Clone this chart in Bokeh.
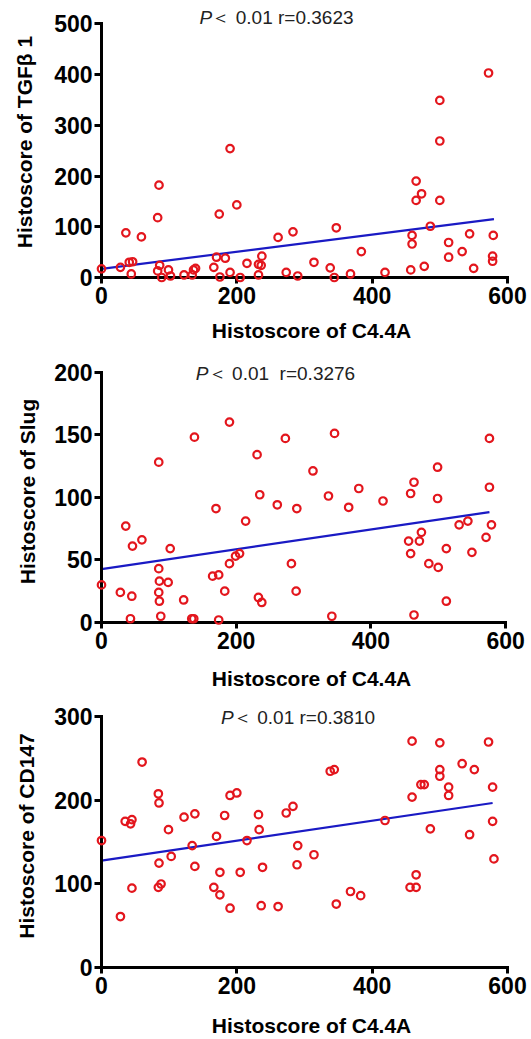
from bokeh.plotting import figure
from bokeh.layouts import column
from bokeh.models import Range1d, FixedTicker, Label
from bokeh.embed import file_html
from bokeh.resources import INLINE

FONT = "Liberation Sans"

x_title = "Histoscore of C4.4A"
x_ticks = [0, 200, 400, 600]

# ---------------- Panel 1: TGFβ1 ----------------
tgf_title = "Histoscore of TGFβ 1"
tgf_ticks = [0, 100, 200, 300, 400, 500]
tgf_note = "＜ 0.01 r=0.3623"
tgf_x = [0, 28, 41, 46, 44, 36, 59, 85, 83, 86, 83, 89, 99, 102, 122, 134, 136, 139,
         166, 174, 170, 183, 175, 190, 200, 205, 215, 232, 236, 237, 232, 261, 283,
         273, 290, 314, 338, 344, 347, 368, 384, 419, 457, 459, 459, 465, 473, 465,
         477, 486, 500, 513, 513, 533, 544, 550, 579, 578, 578, 190, 500, 500, 572]
tgf_y = [17, 20, 30, 31, 7, 88, 80, 182, 118, 24, 13, 0, 15, 3, 5, 5, 15, 18,
         20, 125, 40, 38, 1, 10, 143, 0, 28, 26, 24, 42, 5, 79, 90,
         10, 3, 30, 19, 0, 98, 7, 51, 10, 15, 83, 66, 190, 165, 152,
         22, 101, 152, 69, 40, 51, 86, 18, 83, 42, 32, 254, 349, 269, 403]
tgf_fit_x = [0, 580]
tgf_fit_y = [17, 115]

# ---------------- Panel 2: Slug ----------------
slug_title = "Histoscore of Slug"
slug_ticks = [0, 50, 100, 150, 200]
slug_note = "＜ 0.01\u00a0 r=0.3276"
slug_x = [0, 28, 45, 43, 36, 46, 60, 85, 85, 86, 85, 86, 88, 99, 102, 122, 134, 137,
          138, 170, 165, 174, 174, 183, 190, 190, 199, 205, 214, 231, 235, 233, 238,
          261, 273, 290, 282, 289, 314, 346, 337, 367, 382, 342, 418, 464, 459, 499,
          499, 456, 459, 475, 472, 486, 500, 512, 512, 464, 531, 544, 550, 571, 576,
          576, 579]
slug_y = [30, 24, 21, 3, 77, 61, 66, 128, 43, 33, 24, 17, 5, 32, 59, 18, 3, 3,
          148, 91, 37, 38, 2, 25, 160, 47, 53, 55, 81, 134, 102, 20, 16,
          94, 147, 91, 47, 25, 121, 151, 101, 92, 107, 5, 97, 112, 103, 124,
          99, 65, 55, 72, 65, 47, 44, 59, 17, 6, 78, 81, 56, 68, 147,
          108, 78]
slug_fit_x = [0, 576]
slug_fit_y = [42.6, 88.2]

# ---------------- Panel 3: CD147 ----------------
cd_title = "Histoscore of CD147"
cd_ticks = [0, 100, 200, 300]
cd_note = "＜ 0.01 r=0.3810"
cd_x = [0, 28, 35, 43, 45, 45, 60, 84, 85, 85, 84, 88, 99, 103, 122, 138, 134, 138,
        170, 182, 166, 175, 175, 190, 200, 190, 205, 215, 232, 233, 238, 236, 261,
        273, 283, 290, 289, 314, 338, 344, 347, 368, 383, 419, 456, 465, 465, 459,
        459, 472, 477, 486, 500, 500, 500, 513, 513, 533, 551, 544, 572, 578, 578, 580]
cd_y = [152, 61, 175, 172, 177, 95, 246, 208, 197, 125, 96, 100, 165, 133, 180, 184, 146, 121,
        157, 182, 96, 114, 87, 206, 209, 71, 114, 152, 183, 165, 120, 74, 73,
        185, 193, 146, 123, 135, 235, 237, 76, 91, 86, 176, 96, 96, 111, 271,
        204, 219, 219, 166, 269, 237, 229, 216, 206, 244, 237, 159, 270, 216, 175, 130]
cd_fit_x = [0, 578]
cd_fit_y = [128, 197]


def build(xs, ys, fx, fy, ytitle, yticks, note, L):
    p = figure(width=531, height=L["h"], output_backend="svg", toolbar_location=None,
               x_range=Range1d(0, L["xend"]), y_range=Range1d(0, L["yend"]),
               min_border_left=L["left"], min_border_right=10,
               min_border_top=L["top"], min_border_bottom=L["bottom"])
    p.outline_line_color = None
    p.grid.visible = False
    p.background_fill_color = "white"
    p.border_fill_color = "white"

    p.line(fx, fy, line_color="#1a1ac4", line_width=2.2)
    p.scatter(xs, ys, marker="circle", size=7.5, fill_color=None,
              line_color="#e3161d", line_width=2.2, level="overlay")

    xa = p.xaxis[0]
    ya = p.yaxis[0]
    xa.bounds = (x_ticks[0], x_ticks[-1])
    ya.bounds = (yticks[0], yticks[-1])
    xa.ticker = FixedTicker(ticks=x_ticks)
    ya.ticker = FixedTicker(ticks=yticks)
    for a in (xa, ya):
        a.axis_line_width = 3
        a.axis_line_color = "black"
        a.axis_line_cap = "square"
        a.major_tick_line_width = 3
        a.major_tick_line_color = "black"
        a.major_tick_in = 0
        a.minor_tick_line_color = None
        a.major_label_text_font = FONT
        a.major_label_text_font_style = "bold"
        a.major_label_text_font_size = "23px"
        a.major_label_text_color = "black"
        a.axis_label_text_font = FONT
        a.axis_label_text_font_style = "bold"
        a.axis_label_text_font_size = "21px"
        a.axis_label_text_color = "black"
    xa.major_tick_out = 6
    ya.major_tick_out = 7
    xa.major_label_standoff = 3
    ya.major_label_standoff = 2
    xa.axis_label = x_title
    xa.axis_label_standoff = L["xstand"]
    ya.axis_label = ytitle
    ya.axis_label_standoff = L["ystand"]

    common = dict(text_font=FONT, text_font_size="19px", text_color="#222222",
                  text_baseline="middle")
    p.add_layout(Label(x=L["nx"], y=L["ny"], text="P", text_font_style="italic", **common))
    p.add_layout(Label(x=L["nx"], y=L["ny"], x_offset=12, text=note, **common))
    return p


L1 = dict(h=350, top=6, bottom=73, left=101, xend=620.7, yend=534.1,
          nx=144.8, ny=512.4, xstand=12, ystand=15)
L2 = dict(h=342, top=10, bottom=67, left=98, xend=623.6, yend=209.2,
          nx=140.0, ny=199, xstand=15, ystand=12)
L3 = dict(h=347, top=12, bottom=72, left=101, xend=620.7, yend=314.9,
          nx=176.6, ny=299.6, xstand=17, ystand=13)

p1 = build(tgf_x, tgf_y, tgf_fit_x, tgf_fit_y, tgf_title, tgf_ticks, tgf_note, L1)
p2 = build(slug_x, slug_y, slug_fit_x, slug_fit_y, slug_title, slug_ticks, slug_note, L2)
p3 = build(cd_x, cd_y, cd_fit_x, cd_fit_y, cd_title, cd_ticks, cd_note, L3)

layout = column(p1, p2, p3)
open("out.html", "w").write(file_html(layout, INLINE))
